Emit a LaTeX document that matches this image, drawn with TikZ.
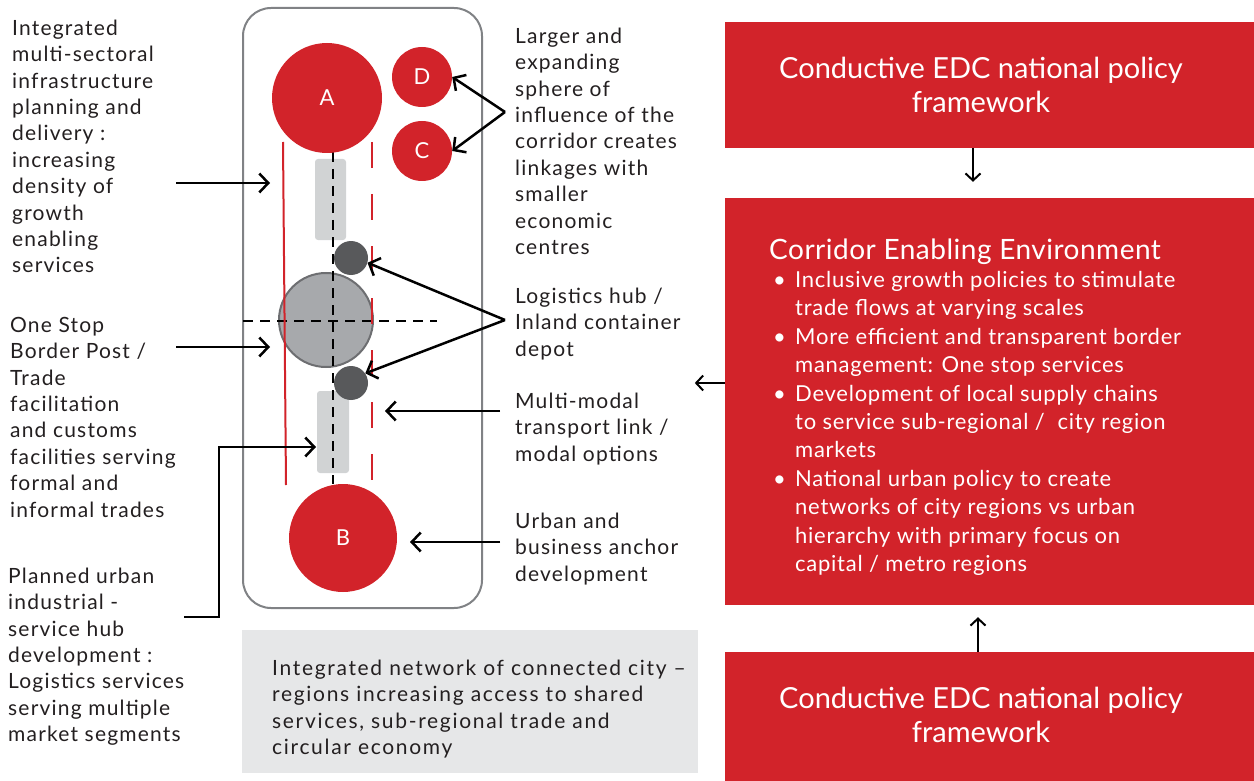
\documentclass[tikz,border=0pt]{standalone}
\usepackage{fontspec}
\setmainfont{Lato}
\usetikzlibrary{arrows.meta,calc}
\definecolor{cred}{HTML}{D2232A}
\definecolor{framec}{HTML}{808285}
\definecolor{lgray}{HTML}{D1D3D4}
\definecolor{mgray}{HTML}{A7A9AC}
\definecolor{mgrayb}{HTML}{6D6E71}
\definecolor{dgray}{HTML}{58595B}
\definecolor{bgray}{HTML}{E6E7E8}
\definecolor{txt}{HTML}{231F20}
\begin{document}
\begin{tikzpicture}[x=1pt,y=-1pt,
  lbl/.style={font=\fontsize{21}{26.4}\selectfont\addfontfeature{LetterSpace=5.7}, text=txt, align=left, anchor=north west, inner sep=0pt},
  glbl/.style={lbl, font=\fontsize{21}{26.4}\selectfont\addfontfeature{LetterSpace=8}},
  wlbl/.style={font=\fontsize{29}{34}\selectfont, text=white, align=center, anchor=north, inner sep=0pt},
  ptr/.style={line width=2.5pt, -{Straight Barb[length=9pt,width=19pt]}},
  ptrthin/.style={line width=2pt, -{Straight Barb[length=7pt,width=15pt]}},
  redbox/.style={fill=cred, draw=none, minimum width=529pt, inner sep=0pt},
  city/.style={circle, fill=cred, inner sep=0pt, text=white, font=\fontsize{22}{22}\selectfont},
  hub/.style={circle, fill=dgray, inner sep=0pt, minimum size=34pt},
  zone/.style={fill=lgray, rounded corners=3pt, inner sep=0pt},
  blackdash/.style={line width=2.5pt, dash pattern=on 10pt off 7pt},
]
\useasboundingbox (0,0) rectangle (1254,781);

% corridor frame
\node[draw=framec, line width=2pt, rounded corners=28pt, minimum width=239pt, minimum height=600pt, inner sep=0pt] (frame) at (362.5,308) {};

% infrastructure zones
\node[zone, minimum width=31pt, minimum height=81pt] (r1) at (330.5,199.5) {};
\node[zone, minimum width=32pt, minimum height=82pt] (r2) at (333,432) {};

% border post circle
\node[circle, fill=mgray, draw=mgrayb, line width=2pt, minimum size=94pt, inner sep=0pt] (osbp) at (326,320) {};

% corridor dashed lines
\draw[blackdash] (333,152) -- (333,484);
\draw[blackdash] (243,321) -- (437,321);
\draw[cred, line width=2pt] (283,142) -- (286,485);
\draw[cred, line width=2pt, dash pattern=on 26pt off 26pt] (372,142) -- (372,485);

% logistics hubs
\node[hub] (dk1) at (351,258) {};
\node[hub] (dk2) at (351,383) {};

% cities
\node[city, minimum size=110pt] (A) at (327,98) {A};
\node[city, minimum size=60pt] (D) at (422,77) {D};
\node[city, minimum size=60pt] (C) at (422,151) {C};
\node[city, minimum size=108pt] (B) at (343,538) {B};

% left labels
\node[lbl] (t1) at (12,17) {\rule{0pt}{18pt}Integrated\\multi-sectoral\\infrastructure\\planning and\\delivery :\\increasing\\density of\\growth\\enabling\\services};
\node[lbl] (t2) at (10,314) {\rule{0pt}{18pt}One Stop\\Border Post /\\Trade\\facilitation\\and customs\\facilities serving\\formal and\\informal trades};
\node[lbl] (t3) at (8,565) {\rule{0pt}{18pt}Planned urban\\industrial -\\service hub\\development :\\Logistics services\\serving multiple\\market segments};

% right labels
\node[lbl] (t4) at (515,25) {\rule{0pt}{18pt}Larger and\\expanding\\sphere of\\influence of the\\corridor creates\\linkages with\\smaller\\economic\\centres};
\node[lbl] (t5) at (515,285) {\rule{0pt}{18pt}Logistics hub /\\Inland container\\depot};
\node[lbl] (t6) at (515,390) {\rule{0pt}{18pt}Multi-modal\\transport link /\\modal options};
\node[lbl] (t7) at (515,510) {\rule{0pt}{18pt}Urban and\\business anchor\\development};

% bottom grey box
\node[fill=bgray, minimum width=456pt, minimum height=143pt, inner sep=0pt] (gbox) at (470,701.5) {};
\node[glbl] (t8) at (272,657) {\rule{0pt}{18pt}Integrated network of connected city –\\regions increasing access to shared\\services, sub-regional trade and\\circular economy};

% left arrows
\coordinate (l1s) at (176,183); \coordinate (l1e) at (270,183);
\coordinate (l2s) at (176,347); \coordinate (l2e) at (270,347);
\coordinate (l3s) at (184,617); \coordinate (l3e) at (316,447);
\draw[ptr] (l1s) -- (l1e);
\draw[ptr] (l2s) -- (l2e);
\draw[ptr] (l3s) -- ++(35,0) |- (l3e);

% right arrows
\coordinate (s1) at (505,112);
\draw[ptr] (s1) -- (D.east);
\draw[ptr] (s1) -- (C.east);
\coordinate (s2) at (505,320);
\draw[ptr] (s2) -- (dk1.-16);
\draw[ptr] (s2) -- (dk2.34);
\coordinate (m1) at (500,411); \coordinate (m2) at (385,411);
\draw[ptr] (m1) -- (m2);
\coordinate (u1) at (500,542); \coordinate (u2) at (410,542);
\draw[ptr] (u1) -- (u2);

% right-hand policy boxes
\node[redbox, minimum height=126pt] (top) at (989.5,85) {};
\node[wlbl] (toptxt) at (981,54) {\rule{0pt}{24pt}Conductive EDC national policy\\framework};
\node[redbox, minimum height=407pt] (mid) at (989.5,401.5) {};
\node[inner sep=0pt, anchor=north west, text=white, font=\fontsize{28}{34}\selectfont\addfontfeature{LetterSpace=1.8}] (midttl) at (769,235) {\rule{0pt}{24pt}Corridor Enabling Environment};
\node[inner sep=0pt, anchor=north west, text=white, font=\fontsize{22}{28.4}\selectfont\addfontfeature{LetterSpace=3.4}] (midlist) at (773,267.5) {%
\begin{tabular}{@{}l@{}l@{}}
\makebox[22pt][l]{\textbullet} & Inclusive growth policies to stimulate\\
 & trade flows at varying scales\\
\makebox[22pt][l]{\textbullet} & More efficient and transparent border\\
 & management: One stop services\\
\makebox[22pt][l]{\textbullet} & Development of local supply chains\\
 & to service sub-regional /\ \ city region\\
 & markets\\
\makebox[22pt][l]{\textbullet} & National urban policy to create\\
 & networks of city regions vs urban\\
 & hierarchy with primary focus on\\
 & capital / metro regions
\end{tabular}};
\node[redbox, minimum height=129pt] (bot) at (989.5,716.5) {};
\node[wlbl] (bottxt) at (981,684) {\rule{0pt}{24pt}Conductive EDC national policy\\framework};

\draw[ptrthin] ([xshift=-16.5pt]top.south) -- ([xshift=-16.5pt,yshift=16pt]mid.north);
\draw[ptrthin] ([xshift=-11.5pt]bot.north) -- ([xshift=-11.5pt,yshift=-12pt]mid.south);
\draw[ptrthin] ([yshift=18.5pt]mid.west) -- ([xshift=-30pt,yshift=18.5pt]mid.west);
\end{tikzpicture}
\end{document}
